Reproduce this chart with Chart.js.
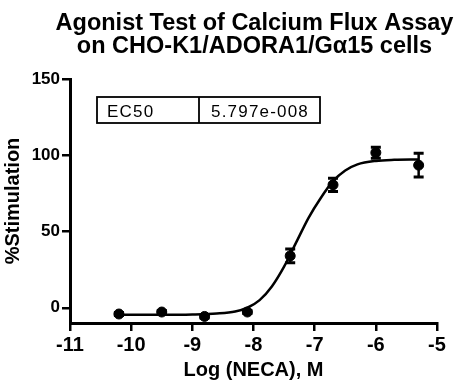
<!DOCTYPE html>
<html><head><meta charset="utf-8">
<script src="https://cdn.jsdelivr.net/npm/chart.js@4.4.1/dist/chart.umd.min.js"></script>
<style>html,body{margin:0;padding:0;background:#fff}canvas{display:block}</style>
</head><body>
<canvas id="c" width="464" height="386"></canvas>
<script>
const titleLines = ['Agonist Test of Calcium Flux Assay', 'on CHO-K1/ADORA1/G\u03b115 cells'];
const xAxisTitle = 'Log (NECA), M';
const yAxisTitle = '%Stimulation';
const xTicks = [-11, -10, -9, -8, -7, -6, -5];
const yTicks = [0, 50, 100, 150];
const doseLog = [-10.2, -9.5, -8.8, -8.1, -7.4, -6.7, -6.0, -5.3];
const meanStim = [-4.1, -2.8, -5.7, -2.8, 34, 80.6, 101.7, 93.5];
const semStim = [1, 1, 1, 1, 4.5, 4.4, 3.6, 7.8];
const curveX = [-10.2, -9.5, -9.0, -8.6, -8.3, -8.1, -7.9, -7.7, -7.5, -7.3, -7.1, -6.9, -6.7, -6.5, -6.3, -6.0, -5.7, -5.3];
const curveY = [-4.6, -4.6, -4.4, -3.8, -2.5, 0, 5, 14, 27, 43, 59, 72, 83, 90, 94, 96.3, 97, 97.2];
const ec50Label = 'EC50';
const ec50Value = '5.797e-008';

const FONT = '"Liberation Sans", Arial, sans-serif';

const chartTitle = {
  id: 'chartTitle',
  afterDraw(chart) {
    const {ctx, chartArea: a} = chart;
    const cx = (a.left + a.right) / 2;
    ctx.save();
    ctx.fillStyle = '#000';
    ctx.font = 'bold 23.5px ' + FONT;
    ctx.textAlign = 'center';
    ctx.textBaseline = 'alphabetic';
    titleLines.forEach((t, i) => ctx.fillText(t, cx + 1, 30 + i * 23));
    ctx.restore();
  }
};

const errorBars = {
  id: 'errorBars',
  afterDatasetsDraw(chart) {
    const {ctx, scales: {x, y}} = chart;
    ctx.save();
    ctx.strokeStyle = '#000';
    doseLog.forEach((d, i) => {
      const e = semStim[i];
      if (!e) return;
      const px = x.getPixelForValue(d);
      const yt = y.getPixelForValue(meanStim[i] + e);
      const yb = y.getPixelForValue(meanStim[i] - e);
      ctx.lineWidth = 2.5;
      ctx.beginPath();
      ctx.moveTo(px, yt); ctx.lineTo(px, yb);
      ctx.stroke();
      ctx.lineWidth = 3;
      ctx.beginPath();
      ctx.moveTo(px - 5, yt); ctx.lineTo(px + 5, yt);
      ctx.moveTo(px - 5, yb); ctx.lineTo(px + 5, yb);
      ctx.stroke();
    });
    ctx.restore();
  }
};

const ec50Box = {
  id: 'ec50Box',
  afterDraw(chart) {
    const {ctx, chartArea: a} = chart;
    const left = a.left + 27, top = a.top + 18, w = 223, h = 26, split = 102;
    ctx.save();
    ctx.strokeStyle = '#000';
    ctx.lineWidth = 1.8;
    ctx.strokeRect(left, top, w, h);
    ctx.beginPath();
    ctx.moveTo(left + split, top); ctx.lineTo(left + split, top + h);
    ctx.stroke();
    ctx.fillStyle = '#000';
    ctx.font = '17px ' + FONT;
    ctx.letterSpacing = '1.2px';
    ctx.textBaseline = 'alphabetic';
    ctx.fillText(ec50Label, left + 10, top + 20);
    ctx.fillText(ec50Value, left + split + 12, top + 20);
    ctx.restore();
  }
};

new Chart(document.getElementById('c'), {
  data: {
    datasets: [
      {
        type: 'line',
        data: curveX.map((v, i) => ({x: v, y: curveY[i]})),
        borderColor: '#000',
        borderWidth: 2.5,
        pointRadius: 0,
        cubicInterpolationMode: 'monotone',
        fill: false
      },
      {
        type: 'scatter',
        data: doseLog.map((v, i) => ({x: v, y: meanStim[i]})),
        backgroundColor: '#000',
        borderColor: '#000',
        pointRadius: 5,
        pointHoverRadius: 5
      }
    ]
  },
  options: {
    responsive: false,
    devicePixelRatio: 1,
    animation: false,
    layout: {padding: {left: 0, right: 27, top: 79, bottom: 0}},
    plugins: {
      legend: {display: false},
      tooltip: {enabled: false},
      title: {display: false}
    },
    scales: {
      x: {
        type: 'linear',
        min: -11, max: -5,
        afterBuildTicks: s => { s.ticks = xTicks.map(v => ({value: v})); },
        afterFit: s => { s.height = 63; },
        ticks: {color: '#000', font: {family: FONT, size: 20, weight: 'bold'}, padding: 2, maxRotation: 0, autoSkip: false},
        grid: {drawOnChartArea: false, drawTicks: true, tickLength: 8, color: '#000', lineWidth: 2.5},
        border: {display: true, color: '#000', width: 3},
        title: {display: true, text: xAxisTitle, color: '#000', font: {family: FONT, size: 20, weight: 'bold'}, padding: {top: 0, bottom: 4}}
      },
      y: {
        type: 'linear',
        min: -10, max: 150,
        afterBuildTicks: s => { s.ticks = yTicks.map(v => ({value: v})); },
        afterFit: s => { s.width = 70; },
        ticks: {color: '#000', font: {family: FONT, size: 17, weight: 'bold'}, padding: 2, autoSkip: false},
        grid: {drawOnChartArea: false, drawTicks: true, tickLength: 8, color: '#000', lineWidth: 2.5},
        border: {display: true, color: '#000', width: 3},
        title: {display: true, text: yAxisTitle, color: '#000', font: {family: FONT, size: 20, weight: 'bold'}, padding: {top: 1, bottom: 0}}
      }
    }
  },
  plugins: [errorBars, ec50Box, chartTitle]
});
</script>
</body></html>
